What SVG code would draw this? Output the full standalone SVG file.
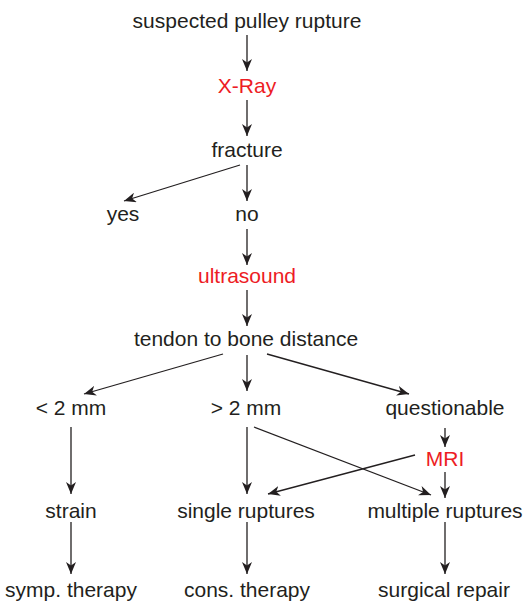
<svg xmlns="http://www.w3.org/2000/svg" width="524" height="602" viewBox="0 0 524 602">
<style>
text{font-family:"Liberation Sans",Arial,sans-serif;font-size:21px;fill:#231f20;text-anchor:middle}
text.red{fill:#ed1c24}
line{stroke:#231f20;stroke-width:1.3;fill:none}
.a{marker-end:url(#ah)}
</style>
<defs>
<marker id="ah" viewBox="0 0 12 10" refX="12" refY="5" markerWidth="12" markerHeight="10" markerUnits="userSpaceOnUse" orient="auto">
<path d="M0,0 L12,5 L0,10 L3.5,5 Z" fill="#231f20"/>
</marker>
</defs>
<rect width="524" height="602" fill="#fff"/>
<g id="connectors">
<line class="a" x1="247" y1="35" x2="247" y2="71"/>
<line class="a" x1="247" y1="100" x2="247" y2="136"/>
<line class="a" x1="240" y1="165" x2="124" y2="201"/>
<line class="a" x1="247" y1="165" x2="247" y2="201"/>
<line class="a" x1="247" y1="229" x2="247" y2="265"/>
<line class="a" x1="247" y1="290" x2="247" y2="326"/>
<line class="a" x1="223" y1="354" x2="84" y2="394"/>
<line class="a" x1="247" y1="355" x2="247" y2="391"/>
<line class="a" x1="267" y1="354" x2="409" y2="394"/>
<line class="a" x1="445" y1="428" x2="445" y2="447"/>
<line class="a" x1="71" y1="427" x2="71" y2="494"/>
<line class="a" x1="247" y1="427" x2="247" y2="494"/>
<line class="a" x1="254" y1="427" x2="431" y2="495"/>
<line class="a" x1="415" y1="455" x2="268" y2="494"/>
<line class="a" x1="445" y1="472" x2="445" y2="498"/>
<line class="a" x1="71" y1="522" x2="71" y2="574"/>
<line class="a" x1="247" y1="522" x2="247" y2="574"/>
<line class="a" x1="445" y1="522" x2="445" y2="574"/>
</g>
<g id="n-suspected"><text x="247" y="28">suspected pulley rupture</text></g>
<g id="n-xray"><text class="red" x="247" y="93">X-Ray</text></g>
<g id="n-fracture"><text x="247" y="157">fracture</text></g>
<g id="n-yes"><text x="123" y="221">yes</text></g>
<g id="n-no"><text x="247" y="221">no</text></g>
<g id="n-ultrasound"><text class="red" x="247" y="283">ultrasound</text></g>
<g id="n-tendon"><text x="246" y="346">tendon to bone distance</text></g>
<g id="n-lt2"><text x="71" y="415">&lt; 2 mm</text></g>
<g id="n-gt2"><text x="246" y="415">&gt; 2 mm</text></g>
<g id="n-questionable"><text x="445" y="415">questionable</text></g>
<g id="n-mri"><text class="red" x="445" y="466">MRI</text></g>
<g id="n-strain"><text x="71" y="518">strain</text></g>
<g id="n-single"><text x="246" y="518">single ruptures</text></g>
<g id="n-multiple"><text x="445" y="518">multiple ruptures</text></g>
<g id="n-symp"><text x="71" y="597">symp. therapy</text></g>
<g id="n-cons"><text x="247" y="597">cons. therapy</text></g>
<g id="n-surgical"><text x="444" y="597">surgical repair</text></g>
</svg>
